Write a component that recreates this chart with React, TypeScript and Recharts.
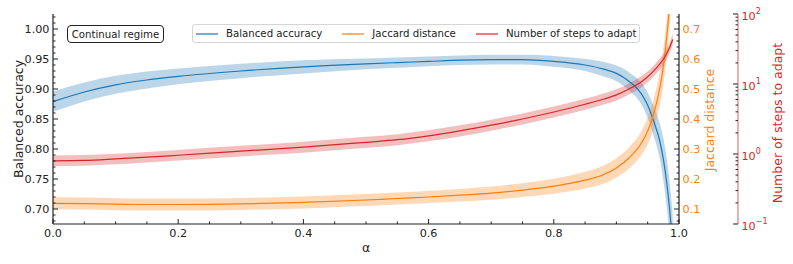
import { ComposedChart, Line, Area, XAxis, YAxis, Legend } from "recharts"

const alpha = [0, 0.05, 0.1, 0.15, 0.2, 0.3, 0.4, 0.5, 0.55, 0.6, 0.65, 0.7, 0.75, 0.8, 0.85, 0.88, 0.9, 0.92, 0.94, 0.95, 0.96, 0.97, 0.975, 0.98, 0.985, 0.99]
const accuracy = [0.879, 0.895, 0.907, 0.915, 0.921, 0.93, 0.937, 0.942, 0.944, 0.946, 0.948, 0.949, 0.949, 0.946, 0.94, 0.933, 0.926, 0.913, 0.892, 0.873, 0.845, 0.81, 0.783, 0.747, 0.7, 0.64]
const accuracyErr = [0.017, 0.016, 0.015, 0.014, 0.013, 0.012, 0.011, 0.009, 0.0085, 0.008, 0.008, 0.008, 0.008, 0.009, 0.01, 0.012, 0.013, 0.015, 0.018, 0.021, 0.025, 0.03, 0.035, 0.04, 0.045, 0.05]
const jaccard = [0.119, 0.118, 0.116, 0.115, 0.115, 0.117, 0.122, 0.13, 0.135, 0.14, 0.146, 0.153, 0.163, 0.176, 0.196, 0.215, 0.237, 0.27, 0.32, 0.36, 0.42, 0.51, 0.575, 0.665, 0.78, 0.93]
const jaccardErr = [0.02, 0.02, 0.02, 0.02, 0.02, 0.02, 0.02, 0.02, 0.02, 0.02, 0.021, 0.022, 0.023, 0.025, 0.028, 0.03, 0.032, 0.035, 0.04, 0.045, 0.05, 0.055, 0.06, 0.065, 0.07, 0.075]
const steps = [0.8, 0.81, 0.85, 0.9, 0.96, 1.1, 1.25, 1.47, 1.6, 1.82, 2.14, 2.58, 3.16, 3.98, 5.13, 6.1, 7.0, 8.5, 10.8, 12.7, 15.5, 19.7, 22.6, 26.9, 33.1, 43.2]
const stepsSpread = [1.19, 1.19, 1.19, 1.19, 1.19, 1.19, 1.2, 1.2, 1.2, 1.2, 1.2, 1.2, 1.2, 1.2, 1.2, 1.2, 1.2, 1.2, 1.2, 1.2, 1.2, 1.2, 1.2, 1.2, 1.2, 1.2]

const xMajor = [0, 0.2, 0.4, 0.6, 0.8, 1.0]
const accMajor = [0.7, 0.75, 0.8, 0.85, 0.9, 0.95, 1.0]
const jacMajor = [0.1, 0.2, 0.3, 0.4, 0.5, 0.6, 0.7]
const stepsMajor = [0.1, 1, 10, 100]

const legendItems = [
  { label: "Balanced accuracy", color: "#1f77b4" },
  { label: "Jaccard distance", color: "#ff7f0e" },
  { label: "Number of steps to adapt", color: "#d62728" },
]

const range = (a: number, b: number, d: number) => {
  const out: number[] = []
  for (let i = 0; a + i * d <= b + 1e-9; i++) out.push(+(a + i * d).toFixed(4))
  return out
}
const xMinor = range(0, 1, 0.05)
const accMinor = range(0.68, 1.02, 0.01)
const jacMinor = range(0.06, 0.74, 0.02)
const stepsMinor = [0.1, 0.2, 0.3, 0.4, 0.5, 0.6, 0.7, 0.8, 0.9, 1, 2, 3, 4, 5, 6, 7, 8, 9, 10, 20, 30, 40, 50, 60, 70, 80, 90, 100]

const data = alpha.map((a, i) => ({
  a,
  acc: accuracy[i],
  accBand: [accuracy[i] - accuracyErr[i], accuracy[i] + accuracyErr[i]],
  jac: jaccard[i],
  jacBand: [jaccard[i] - jaccardErr[i], jaccard[i] + jaccardErr[i]],
  steps: steps[i],
  stepsBand: [steps[i] / stepsSpread[i], steps[i] * stepsSpread[i]],
}))

const FONT = "DejaVu Sans"
const INK = "#222"
const near = (list: number[], v: number) => list.some((m) => Math.abs(m - v) < 1e-6)

function LeftTick(p: any) {
  const major = near(accMajor, p.payload.value)
  return (
    <g>
      <line x1={p.x} x2={p.x + (major ? 5 : 2.5)} y1={p.y} y2={p.y} stroke={INK} strokeWidth={1} />
      {major && (
        <text x={p.x - 3.5} y={p.y + 4} textAnchor="end" fontSize={11.2} fontFamily={FONT} fill={INK}>
          {p.payload.value.toFixed(2)}
        </text>
      )}
    </g>
  )
}

function BottomTick(p: any) {
  const major = near(xMajor, p.payload.value)
  return (
    <g>
      <line x1={p.x} x2={p.x} y1={p.y} y2={p.y - (major ? 5 : 2.5)} stroke={INK} strokeWidth={1} />
      {major && (
        <text x={p.x} y={p.y + 12.5} textAnchor="middle" fontSize={11.2} fontFamily={FONT} fill={INK}>
          {p.payload.value.toFixed(1)}
        </text>
      )}
    </g>
  )
}

function TopTick(p: any) {
  const major = near(xMajor, p.payload.value)
  return <line x1={p.x} x2={p.x} y1={p.y} y2={p.y + (major ? 5 : 2.5)} stroke={INK} strokeWidth={1} />
}

function JacTick(p: any) {
  const major = near(jacMajor, p.payload.value)
  return (
    <g>
      <line x1={p.x} x2={p.x - (major ? 5 : 2.5)} y1={p.y} y2={p.y} stroke={INK} strokeWidth={1} />
      {major && (
        <text x={p.x + 3.5} y={p.y + 4} textAnchor="start" fontSize={11.2} fontFamily={FONT} fill="#ff7f0e">
          {p.payload.value.toFixed(1)}
        </text>
      )}
    </g>
  )
}

function StepsTick(p: any) {
  const v = p.payload.value
  const major = near(stepsMajor, v)
  const exp = Math.round(Math.log10(v))
  return (
    <g>
      <line x1={p.x} x2={p.x - (major ? 5 : 2.5)} y1={p.y} y2={p.y} stroke={INK} strokeWidth={1} />
      {major && (
        <text x={p.x + 3.5} y={p.y + 5.5} textAnchor="start" fontSize={11.2} fontFamily={FONT} fill="#d62728">
          10
          <tspan dy={-5.5} fontSize={8}>{exp < 0 ? "\u2212" + Math.abs(exp) : String(exp)}</tspan>
        </text>
      )}
    </g>
  )
}

function VTitle({ cx, cy, text, color }: { cx: number; cy: number; text: string; color: string }) {
  return (
    <text x={cx} y={cy} transform={`rotate(-90 ${cx} ${cy})`} textAnchor="middle" dominantBaseline="central"
      fontSize={12.5} fontFamily={FONT} fill={color}>
      {text}
    </text>
  )
}

function LegendBox() {
  return (
    <div style={{
      display: "flex", alignItems: "center", height: 19, boxSizing: "border-box", paddingLeft: 3,
      border: "1px solid #d5d5d5", borderRadius: 3, background: "rgba(255,255,255,0.85)",
      fontFamily: FONT, fontSize: 10.2, color: INK, whiteSpace: "nowrap",
    }}>
      {legendItems.map((it) => (
        <div key={it.label} style={{ display: "flex", alignItems: "center", marginRight: 20, flexShrink: 0 }}>
          <svg width={22} height={6} style={{ marginRight: 8 }}>
            <line x1={0} x2={22} y1={3} y2={3} stroke={it.color} strokeWidth={1.6} strokeOpacity={0.75} />
          </svg>
          <span>{it.label}</span>
        </div>
      ))}
    </div>
  )
}

export default function App() {
  return (
    <div style={{ position: "absolute", left: 0, top: 0, width: 793, height: 264, background: "#fff" }}>
      <ComposedChart width={793} height={264} data={data} margin={{ top: 14, right: 0, bottom: 0, left: 0 }}>
        <XAxis xAxisId="x" dataKey="a" type="number" domain={[0, 1]} ticks={xMinor} interval={0}
          height={40} tickSize={0} tickMargin={0} tickLine={false} tick={(p: any) => <BottomTick {...p} />}
          axisLine={{ stroke: INK, strokeWidth: 1.2 }}
          label={() => (
            <text x={366} y={247} textAnchor="middle" dominantBaseline="central" fontSize={12.5} fontFamily={FONT} fill={INK}>α</text>
          )} />
        <XAxis xAxisId="xt" orientation="top" dataKey="a" type="number" domain={[0, 1]} ticks={xMinor} interval={0}
          height={0} tickSize={0} tickMargin={0} tickLine={false} tick={(p: any) => <TopTick {...p} />}
          axisLine={{ stroke: INK, strokeWidth: 1.2 }} />
        <YAxis yAxisId="acc" orientation="left" width={53} domain={[0.675, 1.025]} allowDataOverflow
          ticks={accMinor} interval={0} tickSize={0} tickMargin={0} tickLine={false}
          tick={(p: any) => <LeftTick {...p} />} axisLine={{ stroke: INK, strokeWidth: 1.2 }}
          label={() => <VTitle cx={18} cy={119} text="Balanced accuracy" color={INK} />} />
        <YAxis yAxisId="jac" orientation="right" width={59} domain={[0.05, 0.75]} allowDataOverflow
          ticks={jacMinor} interval={0} tickSize={0} tickMargin={0} tickLine={false}
          tick={(p: any) => <JacTick {...p} />} axisLine={{ stroke: INK, strokeWidth: 1.2 }}
          label={() => <VTitle cx={709} cy={120} text="Jaccard distance" color="#ff7f0e" />} />
        <YAxis yAxisId="steps" orientation="right" width={55} scale="log" domain={[0.1, 100]} allowDataOverflow
          ticks={stepsMinor} interval={0} tickSize={0} tickMargin={0} tickLine={false}
          tick={(p: any) => <StepsTick {...p} />} axisLine={{ stroke: "#d62728", strokeOpacity: 0.5, strokeWidth: 1.5 }}
          label={() => <VTitle cx={777} cy={123} text="Number of steps to adapt" color="#d62728" />} />

        <Area xAxisId="x" yAxisId="acc" dataKey="accBand" type="monotone" stroke="none" fill="#1f77b4" fillOpacity={0.3}
          isAnimationActive={false} activeDot={false} />
        <Line xAxisId="x" yAxisId="acc" dataKey="acc" type="monotone" stroke="#1f77b4" strokeWidth={1.2} dot={false}
          activeDot={false} isAnimationActive={false} />
        <Area xAxisId="x" yAxisId="jac" dataKey="jacBand" type="monotone" stroke="none" fill="#ff7f0e" fillOpacity={0.3}
          isAnimationActive={false} activeDot={false} />
        <Line xAxisId="x" yAxisId="jac" dataKey="jac" type="monotone" stroke="#ff7f0e" strokeWidth={1.2} dot={false}
          activeDot={false} isAnimationActive={false} />
        <Area xAxisId="x" yAxisId="steps" dataKey="stepsBand" type="monotone" stroke="none" fill="#d62728" fillOpacity={0.3}
          isAnimationActive={false} activeDot={false} />
        <Line xAxisId="x" yAxisId="steps" dataKey="steps" type="monotone" stroke="#d62728" strokeWidth={1.2} dot={false}
          activeDot={false} isAnimationActive={false} />

        <Legend layout="horizontal" verticalAlign="middle" align="center"
          wrapperStyle={{ left: 192, top: 24, width: 448, height: 19 }} content={() => <LegendBox />} />
      </ComposedChart>
      <div style={{
        position: "absolute", left: 67, top: 25, width: 97, height: 18, boxSizing: "border-box",
        border: "1px solid #222", borderRadius: 4, background: "#fff", fontFamily: FONT, fontSize: 10.2,
        color: INK, display: "flex", alignItems: "center", justifyContent: "center",
      }}>
        Continual regime
      </div>
    </div>
  )
}
